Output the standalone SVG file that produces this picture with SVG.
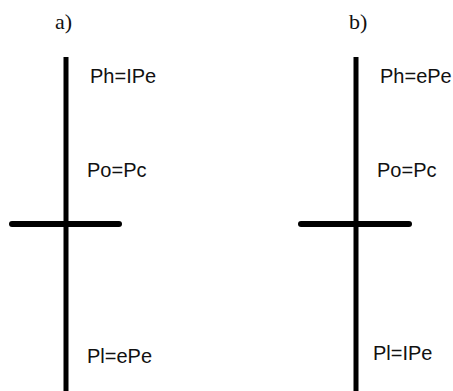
<svg xmlns="http://www.w3.org/2000/svg" width="453" height="391" viewBox="0 0 453 391">
<style>
.bg{fill:#ffffff}
.bar{stroke:#000000;stroke-width:5;fill:none;stroke-linecap:butt}
.cross{stroke:#000000;stroke-width:6;fill:none;stroke-linecap:round}
.lbl{font-family:"Liberation Sans",Arial,sans-serif;font-size:20px;fill:#111111}
.ttl{font-family:"Liberation Serif","Times New Roman",serif;font-size:22px;fill:#111111}
</style>
<rect class="bg" x="0" y="0" width="453" height="391"/>
<g id="connectors">
<line class="bar" x1="66" y1="57" x2="66" y2="391"/>
<line class="cross" x1="12" y1="224" x2="119" y2="224"/>
<line class="bar" x1="356" y1="57" x2="356" y2="391"/>
<line class="cross" x1="301" y1="224" x2="409" y2="224"/>
</g>
<g id="panel-a">
<text class="ttl" x="55" y="29">a)</text>
<text class="lbl" x="90" y="83">Ph=IPe</text>
<text class="lbl" x="87" y="177">Po=Pc</text>
<text class="lbl" x="87" y="363">Pl=ePe</text>
</g>
<g id="panel-b">
<text class="ttl" x="349" y="29">b)</text>
<text class="lbl" x="380" y="83">Ph=ePe</text>
<text class="lbl" x="377" y="177">Po=Pc</text>
<text class="lbl" x="373" y="360">Pl=IPe</text>
</g>
</svg>
